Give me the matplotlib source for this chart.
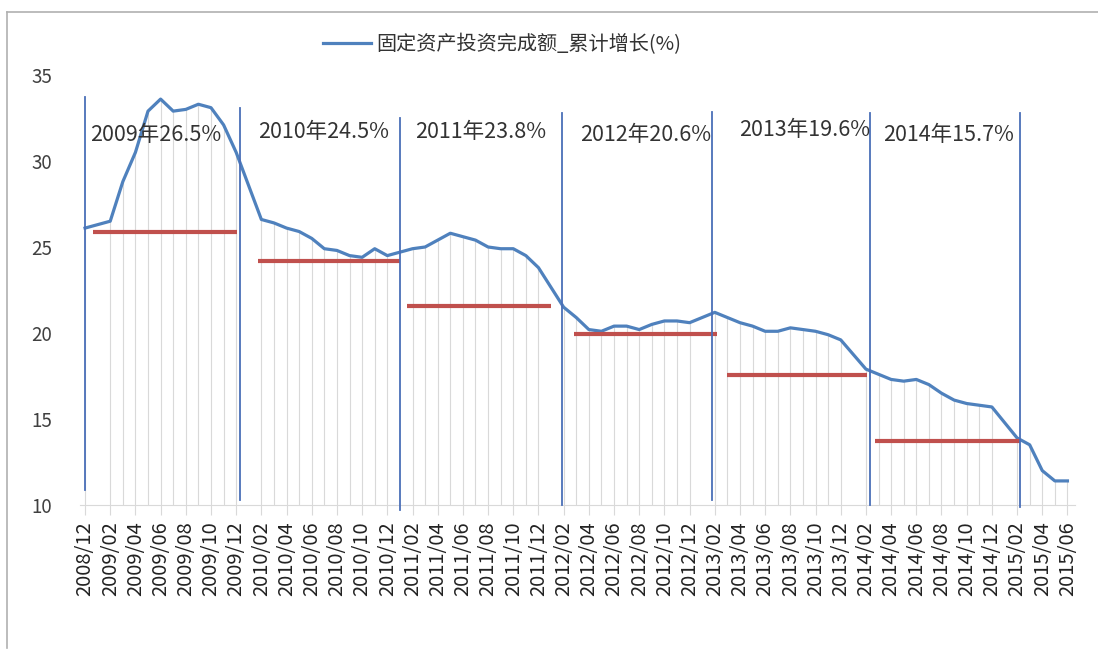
import matplotlib
matplotlib.use("Agg")
import matplotlib.pyplot as plt
from matplotlib.lines import Line2D

plt.rcParams["font.family"] = ["Noto Sans CJK SC", "DejaVu Sans"]

# ---------------------------------------------------------------------------
# Data (no January figures are published, so the months skip from 12 to 02)
# ---------------------------------------------------------------------------

dates = [
    "2008/12",
    "2009/02", "2009/03", "2009/04", "2009/05", "2009/06", "2009/07",
    "2009/08", "2009/09", "2009/10", "2009/11", "2009/12",
    "2010/02", "2010/03", "2010/04", "2010/05", "2010/06", "2010/07",
    "2010/08", "2010/09", "2010/10", "2010/11", "2010/12",
    "2011/02", "2011/03", "2011/04", "2011/05", "2011/06", "2011/07",
    "2011/08", "2011/09", "2011/10", "2011/11", "2011/12",
    "2012/02", "2012/03", "2012/04", "2012/05", "2012/06", "2012/07",
    "2012/08", "2012/09", "2012/10", "2012/11", "2012/12",
    "2013/02", "2013/03", "2013/04", "2013/05", "2013/06", "2013/07",
    "2013/08", "2013/09", "2013/10", "2013/11", "2013/12",
    "2014/02", "2014/03", "2014/04", "2014/05", "2014/06", "2014/07",
    "2014/08", "2014/09", "2014/10", "2014/11", "2014/12",
    "2015/02", "2015/03", "2015/04", "2015/05", "2015/06",
]

growth = [
    26.1,
    26.5, 28.8, 30.5, 32.9, 33.6, 32.9, 33.0, 33.3, 33.1, 32.1, 30.5,
    26.6, 26.4, 26.1, 25.9, 25.5, 24.9, 24.8, 24.5, 24.4, 24.9, 24.5,
    24.9, 25.0, 25.4, 25.8, 25.6, 25.4, 25.0, 24.9, 24.9, 24.5, 23.8,
    21.5, 20.9, 20.2, 20.1, 20.4, 20.4, 20.2, 20.5, 20.7, 20.7, 20.6,
    21.2, 20.9, 20.6, 20.4, 20.1, 20.1, 20.3, 20.2, 20.1, 19.9, 19.6,
    17.9, 17.6, 17.3, 17.2, 17.3, 17.0, 16.5, 16.1, 15.9, 15.8, 15.7,
    13.9, 13.5, 12.0, 11.4, 11.4,
]

series_name = "固定资产投资完成额_累计增长(%)"

# yearly notes, hand-drawn yearly average bars and separators
year_labels = ["2009年26.5%", "2010年24.5%", "2011年23.8%",
               "2012年20.6%", "2013年19.6%", "2014年15.7%"]
label_x = [0.4, 13.7, 26.2, 39.3, 51.9, 63.4]
label_y = [31.5, 31.7, 31.7, 31.5, 31.8, 31.5]

avg_start = [0.6, 13.7, 25.6, 38.8, 51.0, 62.7]
avg_end = [12.1, 25.0, 37.0, 50.2, 62.1, 74.2]
avg_level = [25.85, 24.2, 21.57, 19.94, 17.58, 13.7]

sep_x = [0.0, 12.3, 25.0, 37.9, 49.8, 62.3, 74.2]
sep_top = [33.7, 33.1, 32.5, 32.8, 32.85, 32.8, 32.8]
sep_bottom = [10.9, 10.3, 9.7, 10.0, 10.3, 10.0, 9.9]


def month_pos(s):
    y, m = s.split("/")
    return (int(y) - 2008) * 12 + int(m) - 12


x = [month_pos(d) for d in dates]

# tick labels every two months, 2008/12 .. 2015/06
tick_pos = list(range(0, month_pos("2015/06") + 1, 2))
tick_lab = ["%d/%02d" % (2008 + (p + 11) // 12, (p + 11) % 12 + 1)
            for p in tick_pos]

# ---------------------------------------------------------------------------
# Plot
# ---------------------------------------------------------------------------

W, H = 1098, 650
fig = plt.figure(figsize=(W / 100, H / 100), dpi=100)
ax = fig.add_axes([80 / W, (H - 505) / H, 995 / W, 430 / H])

# drop lines from each point to the axis
ax.vlines(x, 10, growth, color="#d9d9d9", lw=0.8, zorder=1)

ax.plot(x, growth, color="#4f81bd", lw=2.3, zorder=3,
        solid_joinstyle="round")

for s, e, lv in zip(avg_start, avg_end, avg_level):
    ax.plot([s, e], [lv, lv], color="#c0504d", lw=3.0, zorder=4,
            solid_capstyle="butt")

for sx, t, b in zip(sep_x, sep_top, sep_bottom):
    ax.plot([sx, sx], [b, t], color="#4a6fb8", lw=1.3, zorder=5,
            clip_on=False)

for lab, lx, ly in zip(year_labels, label_x, label_y):
    ax.text(lx, ly, lab, fontsize=15.5, color="#333333", va="center",
            ha="left", zorder=6)

ax.set_xlim(-0.4, 78.6)
ax.set_ylim(10, 35)
ax.set_yticks([10, 15, 20, 25, 30, 35])
ax.set_xticks(tick_pos)
ax.set_xticklabels(tick_lab, rotation=90)
ax.tick_params(axis="y", length=0, pad=20, labelsize=13.5, labelcolor="#404040")
ax.tick_params(axis="x", length=7, color="#d9d9d9", pad=5, labelsize=14.5,
               labelcolor="#222222")

for side in ["left", "right", "top"]:
    ax.spines[side].set_visible(False)
ax.spines["bottom"].set_color("#d9d9d9")

handle = Line2D([], [], color="#4f81bd", lw=2.3)
fig.legend([handle], [series_name], loc="center",
           bbox_to_anchor=(502 / W, 1 - 44 / H), frameon=False,
           fontsize=14.5, handlelength=2.4, handletextpad=0.25,
           labelcolor="#333333")

# chart border
fig.add_artist(Line2D([7 / W, 7 / W], [1 - 648 / H, 1 - 12 / H],
                      transform=fig.transFigure, color="#b0b0b0", lw=1.2))
fig.add_artist(Line2D([7 / W, 1.0], [1 - 12 / H, 1 - 12 / H],
                      transform=fig.transFigure, color="#b0b0b0", lw=1.2))

fig.savefig("out.png", dpi=100)
